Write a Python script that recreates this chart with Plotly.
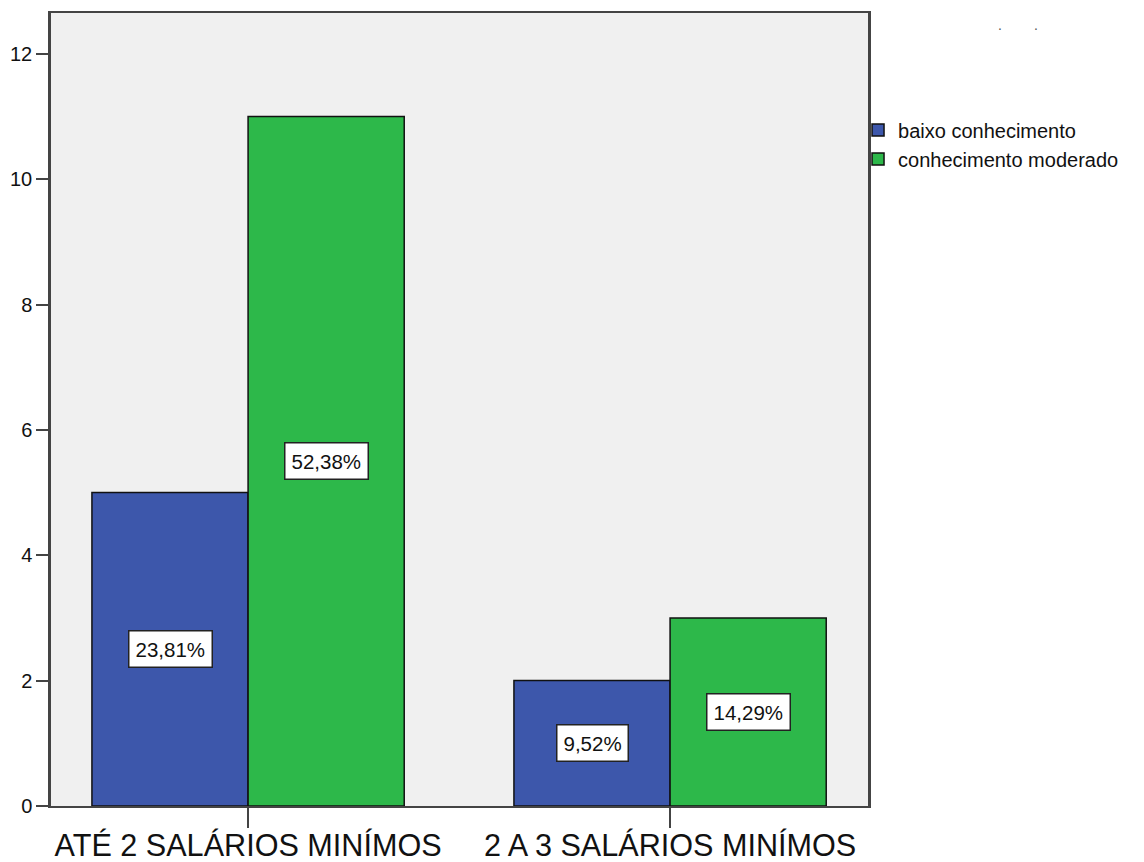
import plotly.graph_objects as go

# Income bands and knowledge-level counts
categories = ["ATÉ 2 SALÁRIOS MINÍMOS", "2 A 3 SALÁRIOS MINÍMOS"]
series_names = ["baixo conhecimento", "conhecimento moderado"]
baixo = [5, 2]
moderado = [11, 3]
colors = ["#3D57AB", "#2DB84A"]
y_ticks = [0, 2, 4, 6, 8, 10, 12]

FONT = "Liberation Sans, Arial, sans-serif"
bargap = 0.26
total = sum(baixo) + sum(moderado)

fig = go.Figure()
for name, vals, col in zip(series_names, [baixo, moderado], colors):
    fig.add_trace(go.Bar(
        x=categories, y=vals, name=name,
        marker=dict(color=col, line=dict(color="#111111", width=1.5)),
        hoverinfo="skip",
    ))

# Percentage boxes centred inside each bar
bar_w = (1 - bargap) / 2
for si, vals in enumerate([baixo, moderado]):
    offset = (si - 0.5) * bar_w
    for ci, v in enumerate(vals):
        pct = f"{v / total * 100:.2f}".replace(".", ",") + "%"
        fig.add_annotation(
            x=ci + offset, y=v / 2, xref="x", yref="y",
            text=pct, showarrow=False,
            font=dict(family=FONT, size=20.5, color="#111111"),
            bgcolor="white", bordercolor="#222222", borderwidth=1.5, borderpad=6,
        )

# Two small marks at the top right
for px in [1.166, 1.2105]:
    fig.add_annotation(x=px, y=0.998, xref="paper", yref="paper", text=".",
                       showarrow=False, font=dict(family=FONT, size=14, color="#555555"))

fig.update_layout(
    width=1144, height=862,
    margin=dict(l=51, r=276, t=13, b=56, autoexpand=False),
    paper_bgcolor="white", plot_bgcolor="#F0F0F0",
    barmode="group", bargap=bargap, bargroupgap=0,
    font=dict(family=FONT, color="#222222"),
    showlegend=True,
    legend=dict(x=0.9878, y=0.877, xanchor="left", yanchor="top",
                font=dict(family=FONT, size=20, color="#111111"),
                bgcolor="rgba(0,0,0,0)", tracegroupgap=0, itemwidth=30),
)
fig.update_xaxes(
    type="category", categoryorder="array", categoryarray=categories,
    range=[-0.467, 1.469], automargin=False,
    showline=True, mirror=True, linecolor="#444444", linewidth=2,
    ticks="outside", ticklen=20, tickwidth=2, tickcolor="#444444",
    ticklabelstandoff=-9,
    tickfont=dict(family=FONT, size=30.6, color="#111111"),
    showgrid=False, zeroline=False,
)
fig.update_yaxes(
    range=[0, 12.65], tickvals=y_ticks, automargin=False,
    showline=True, mirror=True, linecolor="#444444", linewidth=2.5,
    ticks="outside", ticklen=12, tickwidth=2, tickcolor="#444444",
    tickfont=dict(family=FONT, size=20, color="#111111"),
    showgrid=False, zeroline=False,
)

fig.write_html("out.html")
